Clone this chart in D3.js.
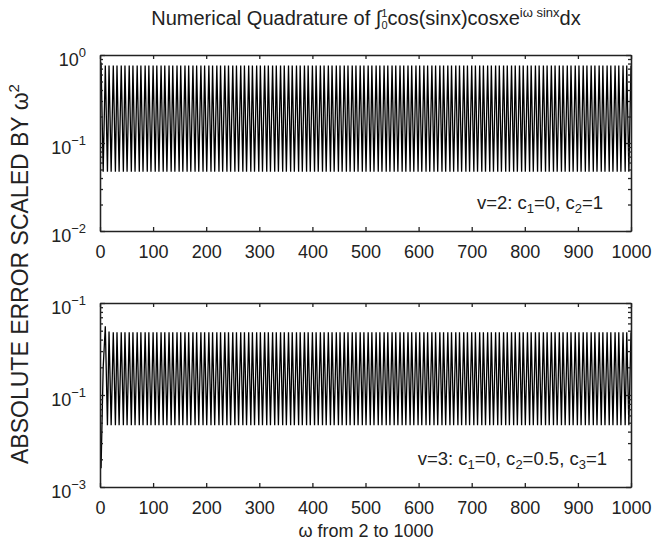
<!DOCTYPE html>
<html><head><meta charset="utf-8">
<script src="https://cdn.jsdelivr.net/npm/d3@7"></script>
<style>
body{margin:0;background:#fff}
text{font-family:"Liberation Sans",Arial,Helvetica,sans-serif;fill:#222}
.axis path,.axis line{stroke:#222;stroke-width:1.3}
.axis text{font-size:18px;fill:#222;font-family:"Liberation Sans",Arial,sans-serif}
</style>
</head><body><svg id="c" width="656" height="546"></svg>
<script>
// ---- data ----
const xTicks=[0,100,200,300,400,500,600,700,800,900,1000];
const topYTicks=[1e-2,1e-1,1];
const topYLabels=[["10","−2"],["10","−1"],["10","0"]];
const botYTicks=[1e-3,1e-2,1e-1];
const botYLabels=[["10","−3"],["10","−1"],["10","−1"]];
// turning points of the oscillating error curves (omega)
const omega=[
2,6,10,14,17,21,25,29,32,36,40,44,47,51,55,59,62,66,70,74,77,81,85,89,92,96,100,104,
107,111,115,119,122,126,130,134,137,141,145,149,152,156,160,164,167,171,175,179,182,186,190,194,
197,201,205,209,212,216,220,224,227,231,235,239,242,246,250,254,257,261,265,269,272,276,280,284,
287,291,295,299,302,306,310,314,317,321,325,329,332,336,340,344,347,351,355,359,362,366,370,374,
377,381,385,389,392,396,400,404,407,411,415,419,422,426,430,434,437,441,445,449,452,456,460,464,
467,471,475,479,482,486,490,494,497,501,505,509,512,516,520,524,527,531,535,539,542,546,550,554,
557,561,565,569,572,576,580,584,587,591,595,599,602,606,610,614,617,621,625,629,632,636,640,644,
647,651,655,659,662,666,670,674,677,681,685,689,692,696,700,704,707,711,715,719,722,726,730,734,
737,741,745,749,752,756,760,764,767,771,775,779,782,786,790,794,797,801,805,809,812,816,820,824,
827,831,835,839,842,846,850,854,857,861,865,869,872,876,880,884,887,891,895,899,902,906,910,914,
917,921,925,929,932,936,940,944,947,951,955,959,962,966,970,974,977,981,985,989,992,996,1000];
// top panel: v=2
const errTop=[
0.82,0.047,0.76,0.047,0.76,0.047,0.76,0.047,0.76,0.047,0.76,0.047,0.76,0.047,0.76,0.047,0.76,0.047,0.76,0.047,0.76,0.047,0.76,0.047,0.76,0.047,0.76,0.047,
0.76,0.047,0.76,0.047,0.76,0.047,0.76,0.047,0.76,0.047,0.76,0.047,0.76,0.047,0.76,0.047,0.76,0.047,0.76,0.047,0.76,0.047,0.76,0.047,
0.76,0.047,0.76,0.047,0.76,0.047,0.76,0.047,0.76,0.047,0.76,0.047,0.76,0.047,0.76,0.047,0.76,0.047,0.76,0.047,0.76,0.047,0.76,0.047,
0.76,0.047,0.76,0.047,0.76,0.047,0.76,0.047,0.76,0.047,0.76,0.047,0.76,0.047,0.76,0.047,0.76,0.047,0.76,0.047,0.76,0.047,0.76,0.047,
0.76,0.047,0.76,0.047,0.76,0.047,0.76,0.047,0.76,0.047,0.76,0.047,0.76,0.047,0.76,0.047,0.76,0.047,0.76,0.047,0.76,0.047,0.76,0.047,
0.76,0.047,0.76,0.047,0.76,0.047,0.76,0.047,0.76,0.047,0.76,0.047,0.76,0.047,0.76,0.047,0.76,0.047,0.76,0.047,0.76,0.047,0.76,0.047,
0.76,0.047,0.76,0.047,0.76,0.047,0.76,0.047,0.76,0.047,0.76,0.047,0.76,0.047,0.76,0.047,0.76,0.047,0.76,0.047,0.76,0.047,0.76,0.047,
0.76,0.047,0.76,0.047,0.76,0.047,0.76,0.047,0.76,0.047,0.76,0.047,0.76,0.047,0.76,0.047,0.76,0.047,0.76,0.047,0.76,0.047,0.76,0.047,
0.76,0.047,0.76,0.047,0.76,0.047,0.76,0.047,0.76,0.047,0.76,0.047,0.76,0.047,0.76,0.047,0.76,0.047,0.76,0.047,0.76,0.047,0.76,0.047,
0.76,0.047,0.76,0.047,0.76,0.047,0.76,0.047,0.76,0.047,0.76,0.047,0.76,0.047,0.76,0.047,0.76,0.047,0.76,0.047,0.76,0.047,0.76,0.047,
0.76,0.047,0.76,0.047,0.76,0.047,0.76,0.047,0.76,0.047,0.76,0.047,0.76,0.047,0.76,0.047,0.76,0.047,0.76,0.047,0.76,0.047,0.76];
// bottom panel: v=3
const errBot=[
0.0016,0.02,0.056,0.0047,0.049,0.0047,0.048,0.0047,0.048,0.0047,0.048,0.0047,0.048,0.0047,0.048,0.0047,0.048,0.0047,0.048,0.0047,0.048,0.0047,0.048,0.0047,0.048,0.0047,0.048,0.0047,
0.048,0.0047,0.048,0.0047,0.048,0.0047,0.048,0.0047,0.048,0.0047,0.048,0.0047,0.048,0.0047,0.048,0.0047,0.048,0.0047,0.048,0.0047,0.048,0.0047,0.048,0.0047,
0.048,0.0047,0.048,0.0047,0.048,0.0047,0.048,0.0047,0.048,0.0047,0.048,0.0047,0.048,0.0047,0.048,0.0047,0.048,0.0047,0.048,0.0047,0.048,0.0047,0.048,0.0047,
0.048,0.0047,0.048,0.0047,0.048,0.0047,0.048,0.0047,0.048,0.0047,0.048,0.0047,0.048,0.0047,0.048,0.0047,0.048,0.0047,0.048,0.0047,0.048,0.0047,0.048,0.0047,
0.048,0.0047,0.048,0.0047,0.048,0.0047,0.048,0.0047,0.048,0.0047,0.048,0.0047,0.048,0.0047,0.048,0.0047,0.048,0.0047,0.048,0.0047,0.048,0.0047,0.048,0.0047,
0.048,0.0047,0.048,0.0047,0.048,0.0047,0.048,0.0047,0.048,0.0047,0.048,0.0047,0.048,0.0047,0.048,0.0047,0.048,0.0047,0.048,0.0047,0.048,0.0047,0.048,0.0047,
0.048,0.0047,0.048,0.0047,0.048,0.0047,0.048,0.0047,0.048,0.0047,0.048,0.0047,0.048,0.0047,0.048,0.0047,0.048,0.0047,0.048,0.0047,0.048,0.0047,0.048,0.0047,
0.048,0.0047,0.048,0.0047,0.048,0.0047,0.048,0.0047,0.048,0.0047,0.048,0.0047,0.048,0.0047,0.048,0.0047,0.048,0.0047,0.048,0.0047,0.048,0.0047,0.048,0.0047,
0.048,0.0047,0.048,0.0047,0.048,0.0047,0.048,0.0047,0.048,0.0047,0.048,0.0047,0.048,0.0047,0.048,0.0047,0.048,0.0047,0.048,0.0047,0.048,0.0047,0.048,0.0047,
0.048,0.0047,0.048,0.0047,0.048,0.0047,0.048,0.0047,0.048,0.0047,0.048,0.0047,0.048,0.0047,0.048,0.0047,0.048,0.0047,0.048,0.0047,0.048,0.0047,0.048,0.0047,
0.048,0.0047,0.048,0.0047,0.048,0.0047,0.048,0.0047,0.048,0.0047,0.048,0.0047,0.048,0.0047,0.048,0.0047,0.048,0.0047,0.048,0.0047,0.048,0.0047,0.048];

const svg=d3.select("#c");
const L=100,R=631;
const x=d3.scaleLinear().domain([0,1000]).range([L,R]);

function minorsFor(domain){
  const out=[];
  const lo=Math.round(Math.log10(domain[0])),hi=Math.round(Math.log10(domain[1]));
  for(let e=lo;e<hi;e++)for(let k=2;k<=9;k++)out.push(k*Math.pow(10,e));
  return out;
}

function panel(top,bottom,yTicks,yLabels,vals,note){
  const domain=[yTicks[0],yTicks[yTicks.length-1]];
  const y=d3.scaleLog().domain(domain).range([bottom,top]);
  const minors=minorsFor(domain);
  const g=svg.append("g");
  const data=omega.map((w,i)=>[w,vals[i]]);
  g.append("path").datum(data)
    .attr("fill","none").attr("stroke","#000").attr("stroke-width",1.3)
    .attr("d",d3.line().x(d=>x(d[0])).y(d=>y(d[1])));
  g.append("g").attr("class","axis").attr("transform",`translate(0,${bottom})`)
    .call(d3.axisBottom(x).tickValues(xTicks).tickSizeInner(-4).tickSizeOuter(0).tickPadding(14).tickFormat(d=>d));
  g.append("g").attr("class","axis").attr("transform",`translate(0,${top})`)
    .call(d3.axisTop(x).tickValues(xTicks).tickSizeInner(-4).tickSizeOuter(0).tickFormat(""));
  g.append("g").attr("class","axis").attr("transform",`translate(${L},0)`)
    .call(d3.axisLeft(y).tickValues(yTicks).tickSizeInner(-5).tickSizeOuter(0).tickFormat(""));
  g.append("g").attr("class","axis").attr("transform",`translate(${L},0)`)
    .call(d3.axisLeft(y).tickValues(minors).tickSizeInner(-3).tickSizeOuter(0).tickFormat(""));
  g.append("g").attr("class","axis").attr("transform",`translate(${R},0)`)
    .call(d3.axisRight(y).tickValues(yTicks).tickSizeInner(-5).tickSizeOuter(0).tickFormat(""));
  g.append("g").attr("class","axis").attr("transform",`translate(${R},0)`)
    .call(d3.axisRight(y).tickValues(minors).tickSizeInner(-3).tickSizeOuter(0).tickFormat(""));
  yTicks.forEach((t,i)=>{
    const tx=g.append("text").attr("x",86).attr("y",y(t)+11).attr("text-anchor","end").style("font-size","18px");
    tx.append("tspan").text(yLabels[i][0]);
    tx.append("tspan").attr("dy",-9).style("font-size","13px").text(yLabels[i][1]);
  });
  const a=g.append("text").attr("x",note.x).attr("y",note.y).attr("text-anchor","end").style("font-size","18.5px");
  let shift=0;
  note.parts.forEach(p=>{
    const want=p.sub?4:0;
    a.append("tspan").attr("dy",want-shift).style("font-size",p.sub?"13px":null).text(p.t);
    shift=want;
  });
}

panel(55,231,topYTicks,topYLabels,errTop,{x:603,y:209,parts:[{t:"v=2: c"},{t:"1",sub:1},{t:"=0, c"},{t:"2",sub:1},{t:"=1"}]});
panel(303,487,botYTicks,botYLabels,errBot,{x:607,y:465,parts:[{t:"v=3: c"},{t:"1",sub:1},{t:"=0, c"},{t:"2",sub:1},{t:"=0.5, c"},{t:"3",sub:1},{t:"=1"}]});

// title
const tt=svg.append("text").attr("x",366).attr("y",25).attr("text-anchor","middle").style("font-size","20px");
tt.append("tspan").text("Numerical Quadrature of ∫");
tt.append("tspan").attr("dy",-8).style("font-size","11px").text("1");
tt.append("tspan").attr("dx",-6).attr("dy",12).style("font-size","11px").text("0");
tt.append("tspan").attr("dy",-4).text("cos(sinx)cosxe");
tt.append("tspan").attr("dy",-8).style("font-size","13px").text("iω sinx");
tt.append("tspan").attr("dy",8).text("dx");

// y label
const yl=svg.append("text").attr("transform","translate(28,274) rotate(-90)").attr("text-anchor","middle").style("font-size","23px");
yl.append("tspan").text("ABSOLUTE ERROR SCALED BY ω");
yl.append("tspan").attr("dy",-9).style("font-size","15px").text("2");

// x label
svg.append("text").attr("x",366).attr("y",537).attr("text-anchor","middle").style("font-size","18px").text("ω from 2 to 1000");
</script>
</body></html>
